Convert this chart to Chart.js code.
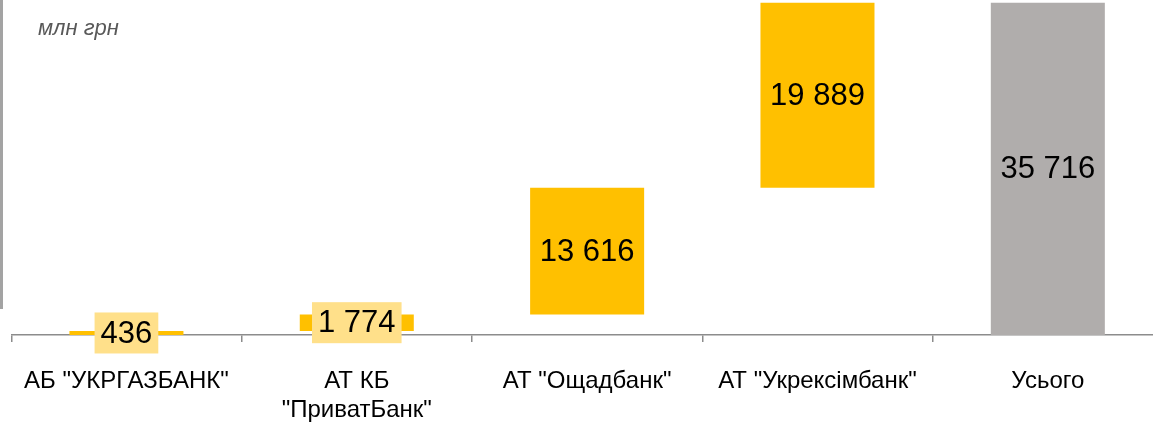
<!DOCTYPE html>
<html>
<head>
<meta charset="utf-8">
<script src="https://cdn.jsdelivr.net/npm/chart.js@4"></script>
<style>
    html, body { margin: 0; padding: 0; background: #fff; overflow: hidden; }
    #wrap { position: relative; width: 1165px; height: 426px; }
    #waterfall { position: absolute; left: -2px; top: 0; }
    #edge { position: absolute; left: 0; top: 0; width: 3px; height: 309px; background: #a3a3a3; }
</style>
</head>
<body>
<div id="wrap">
    <canvas id="waterfall" width="1165" height="426"></canvas>
    <div id="edge"></div>
</div>
<script>
// дані (млн грн)
const categories = [
    'АБ "УКРГАЗБАНК"',
    ['АТ КБ', '"ПриватБанк"'],
    'АТ "Ощадбанк"',
    'АТ "Укрексімбанк"',
    'Усього'
];
const bankValues = [436, 1774, 13616, 19889];
const totalValue = 35716;
const unitLabel = 'млн грн';

const yellow = '#FFC000';
const grey = '#B0ADAC';
const labelBox = '#FFE08A';

// плаваючі стовпці: кожен банк починається там, де закінчився попередній
const floating = [];
let run = 0;
bankValues.forEach(v => {
    floating.push([run, run + v]);
    run += v;
});
floating.push([0, totalValue]);
const shownValues = bankValues.concat([totalValue]);

function fmt(n) {
    return String(n).replace(/\B(?=(\d{3})+(?!\d))/g, ' ');
}

// підписи значень у центрі стовпців
const valueLabels = {
    id: 'valueLabels',
    afterDatasetsDraw(chart) {
        const ctx = chart.ctx;
        const meta = chart.getDatasetMeta(0);
        ctx.save();
        ctx.font = '31px "Liberation Sans", Arial, sans-serif';
        ctx.textAlign = 'center';
        ctx.textBaseline = 'middle';
        meta.data.forEach((bar, i) => {
            const text = fmt(shownValues[i]);
            const cy = (bar.y + bar.base) / 2;
            const h = Math.abs(bar.base - bar.y);
            if (h < 40) {
                const w = ctx.measureText(text).width + 12;
                ctx.fillStyle = labelBox;
                ctx.fillRect(bar.x - w / 2, cy - 20.5, w, 41);
            }
            ctx.fillStyle = '#000';
            ctx.fillText(text, bar.x, cy + 1);
        });
        ctx.font = 'italic 22px "Liberation Sans", Arial, sans-serif';
        ctx.fillStyle = '#595959';
        ctx.textAlign = 'left';
        ctx.fillText(unitLabel, 40, 29);
        ctx.restore();
    }
};

new Chart(document.getElementById('waterfall').getContext('2d'), {
    type: 'bar',
    data: {
        labels: categories,
        datasets: [{
            data: floating,
            backgroundColor: [yellow, yellow, yellow, yellow, grey],
            borderWidth: 0,
            barPercentage: 0.495,
            categoryPercentage: 1
        }]
    },
    options: {
        responsive: false,
        animation: false,
        layout: { padding: { left: 10, right: 0, top: 0, bottom: 0 } },
        plugins: {
            legend: { display: false },
            tooltip: { enabled: false }
        },
        scales: {
            y: {
                display: false,
                min: 0,
                max: 36000
            },
            x: {
                afterFit(scale) { scale.height = 91; },
                border: { display: true, color: '#8c8c8c', width: 1.5 },
                grid: {
                    drawOnChartArea: false,
                    drawTicks: true,
                    tickLength: 7,
                    color: '#8c8c8c',
                    lineWidth: 1.5
                },
                ticks: {
                    color: '#000',
                    padding: 25,
                    maxRotation: 0,
                    autoSkip: false,
                    font: { family: '"Liberation Sans", Arial', size: 24, lineHeight: 1.2 }
                }
            }
        }
    },
    plugins: [valueLabels]
});
</script>
</body>
</html>
